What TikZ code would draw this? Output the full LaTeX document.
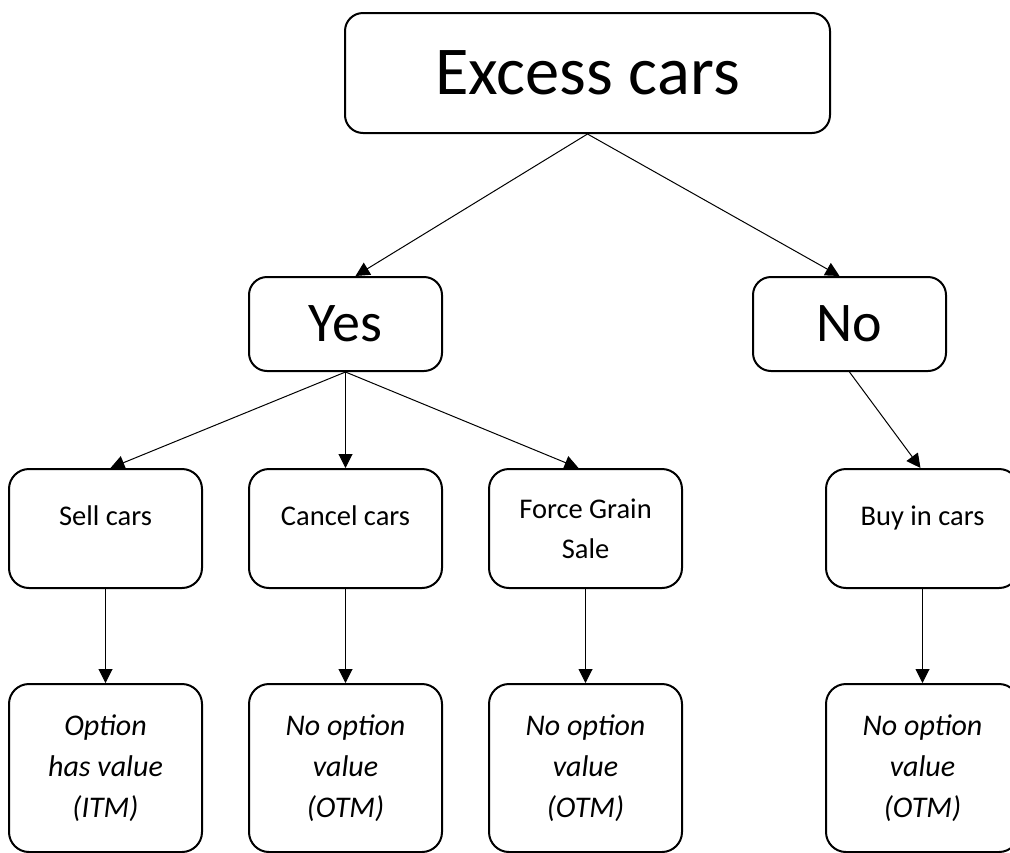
\documentclass[tikz,border=0pt]{standalone}
\usepackage{fontspec}
\setmainfont{Carlito}
\usetikzlibrary{positioning,arrows.meta}

\begin{document}
\begin{tikzpicture}[x=1pt,y=-1pt,
    box/.style={draw,line width=2pt,fill=white,rounded corners=18pt,align=center,inner sep=0pt},
    topbox/.style={box,minimum width=485pt,minimum height=120pt,font=\fontsize{68.5}{72}\selectfont},
    answerbox/.style={box,minimum width=193pt,minimum height=94pt,font=\fontsize{56}{60}\selectfont},
    actionbox/.style={box,rounded corners=20pt,minimum width=193pt,minimum height=119pt,font=\fontsize{28.5}{40}\selectfont},
    oneline/.style={text depth=26pt},
    valuebox/.style={box,rounded corners=20pt,minimum width=193pt,minimum height=168pt,font=\fontsize{30}{41}\selectfont\itshape},
    link/.style={line width=1pt,-{Triangle[length=14pt,width=14pt]}}]
    % Frame
    \useasboundingbox (0,0) rectangle (1010,852);
    \clip (0,0) rectangle (1010,852);

    % Question
    \node[topbox] (excess) at (587.5,73) {Excess cars};

    % Answers
    \node[answerbox] (yes) at (345.5,324) {Yes};
    \node[answerbox] (no) at (849.5,324) {No};

    % Actions
    \node[actionbox,oneline] (sell) at (105.5,528.5) {Sell cars};
    \node[actionbox,oneline] (cancel) at (345.5,528.5) {Cancel cars};
    \node[actionbox] (force) at (585.5,528.5) {Force Grain\\Sale};
    \node[actionbox,oneline] (buy) at (922.5,528.5) {Buy in cars};

    % Option values
    \node[valuebox] (sellval) at (105.5,768) {Option\\has value\\(ITM)};
    \node[valuebox] (cancelval) at (345.5,768) {No option\\value\\(OTM)};
    \node[valuebox] (forceval) at (585.5,768) {No option\\value\\(OTM)};
    \node[valuebox] (buyval) at (922.5,768) {No option\\value\\(OTM)};

    % Arrows
    \draw[link] (excess.south) -- ([xshift=10pt]yes.north);
    \draw[link] (excess.south) -- ([xshift=-10pt]no.north);
    \draw[link] (yes.south) -- ([xshift=5pt]sell.north);
    \draw[link] (yes.south) -- (cancel.north);
    \draw[link] (yes.south) -- ([xshift=-7pt]force.north);
    \draw[link] (no.south) -- ([xshift=-2pt]buy.north);
    \foreach \from/\to in {sell/sellval,cancel/cancelval,force/forceval,buy/buyval}
        \draw[link] (\from) -- (\to);
\end{tikzpicture}
\end{document}
